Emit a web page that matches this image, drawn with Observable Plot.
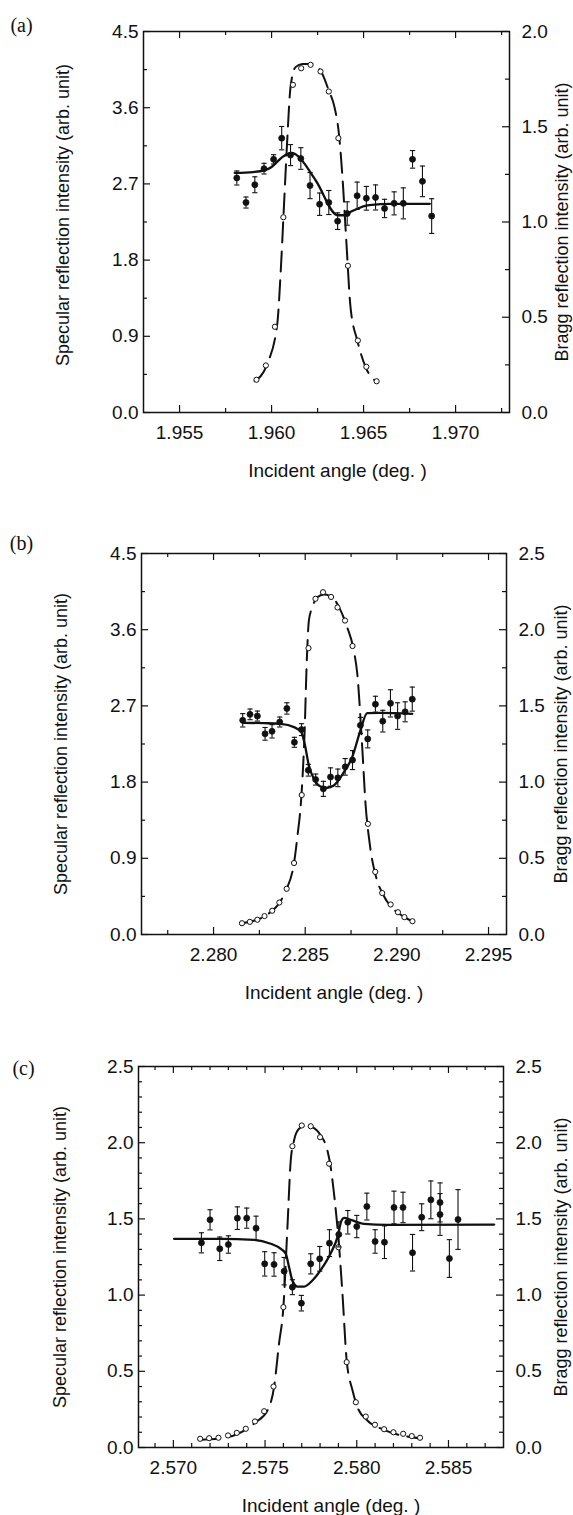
<!DOCTYPE html>
<html><head><meta charset="utf-8">
<script src="https://cdn.jsdelivr.net/npm/d3@7"></script>
<script src="https://cdn.jsdelivr.net/npm/@observablehq/plot@0.6"></script>
<style>
html,body{margin:0;padding:0;background:#fff;}
#wrap{position:relative;width:573px;height:1515px;overflow:hidden;background:#fff;}
#wrap>svg{position:absolute;left:0;}
</style></head><body><div id="wrap"></div>
<script>
// ---------- Panel (a) ----------
const aSpecX = [1.95811,1.95861,1.95909,1.95959,1.96011,1.96055,1.96103,1.96159,1.96209,1.96261,1.96311,1.96359,1.96411,1.96465,1.96515,1.96565,1.96614,1.96666,1.96716,1.96766,1.9682,1.9687];
const aSpecY = [2.77,2.48,2.69,2.88,2.99,3.24,3.04,3.00,2.68,2.46,2.48,2.26,2.35,2.56,2.53,2.54,2.41,2.47,2.47,2.99,2.73,2.32];
const aSpecErr = [0.083,0.065,0.094,0.063,0.055,0.138,0.124,0.128,0.154,0.132,0.142,0.098,0.138,0.161,0.14,0.148,0.108,0.136,0.183,0.104,0.181,0.205];
const aFitX = [1.9580,1.9590,1.9596,1.9600,1.9603,1.9606,1.9609,1.9611,1.9613,1.9624,1.9636,1.9640,1.9643,1.9647,1.9652,1.9659,1.9665,1.9686];
const aFitY = [2.83,2.84,2.86,2.90,2.96,3.02,3.055,3.065,3.05,2.74,2.33,2.33,2.37,2.41,2.445,2.46,2.465,2.465];
const aBraggX = [1.95918,1.95969,1.96018,1.96064,1.96116,1.96161,1.96212,1.96266,1.96311,1.96363,1.96415,1.96469,1.96515,1.96571];
const aBraggY = [0.172,0.247,0.45,1.025,1.72,1.807,1.825,1.79,1.685,1.44,0.77,0.378,0.24,0.164];
const aBFitX = [1.95908,1.95977,1.96031,1.96049,1.96067,1.96085,1.96103,1.9613,1.96167,1.96212,1.96266,1.96311,1.96342,1.96366,1.96384,1.96406,1.96429,1.96466,1.96511,1.96575];
const aBFitY = [0.164,0.256,0.466,0.728,1.078,1.428,1.708,1.813,1.830,1.830,1.795,1.690,1.603,1.463,1.253,0.903,0.553,0.378,0.238,0.159];
const aXMajor = [1.955,1.960,1.965,1.970];
const aXMinor = [1.9575,1.9625,1.9675,1.9725];
const aYMajor = [0,0.9,1.8,2.7,3.6,4.5];
const aYMinor = [0.45,1.35,2.25,3.15,4.05];
const aRMajor = [0,0.5,1.0,1.5,2.0];
const aRMinor = [0.25,0.75,1.25,1.75];

// ---------- Panel (b) ----------
const bSpecX = [2.28159,2.28199,2.28239,2.28281,2.28319,2.28361,2.284,2.28441,2.2848,2.28517,2.28557,2.28599,2.28638,2.28678,2.28718,2.28758,2.28801,2.28841,2.28883,2.28923,2.28965,2.29004,2.29045,2.29084];
const bSpecY = [2.53,2.60,2.58,2.37,2.40,2.51,2.67,2.27,2.42,1.94,1.83,1.72,1.86,1.85,1.98,2.06,2.47,2.31,2.72,2.52,2.73,2.58,2.63,2.78];
const bSpecErr = [0.079,0.063,0.059,0.075,0.079,0.059,0.067,0.059,0.07,0.069,0.065,0.089,0.108,0.104,0.098,0.112,0.094,0.106,0.094,0.128,0.161,0.157,0.118,0.142];
const bFitX = [2.28159,2.28275,2.28366,2.28439,2.28479,2.28497,2.2852,2.28547,2.28584,2.2862,2.28656,2.28711,2.28756,2.28801,2.28838,2.2891,2.29084];
const bFitY = [2.50,2.496,2.488,2.449,2.39,2.252,1.996,1.839,1.748,1.733,1.76,1.917,2.094,2.409,2.614,2.618,2.607];
const bBraggX = [2.28155,2.28198,2.28239,2.28278,2.2832,2.28359,2.28399,2.28439,2.28481,2.28518,2.28556,2.28597,2.28641,2.28676,2.28717,2.28758,2.28842,2.28882,2.2892,2.28966,2.29006,2.29041,2.29085];
const bBraggY = [0.074,0.083,0.097,0.121,0.156,0.21,0.30,0.469,0.915,1.879,2.203,2.246,2.215,2.146,2.06,1.893,0.726,0.411,0.272,0.197,0.146,0.114,0.087];
const bBFitX = [2.28155,2.28278,2.28399,2.28439,2.28457,2.2848,2.28497,2.28508,2.2852,2.28539,2.28566,2.28602,2.28647,2.28689,2.28729,2.28765,2.28784,2.28811,2.28829,2.28852,2.28892,2.2892,2.29041,2.29085];
const bBFitY = [0.074,0.12,0.30,0.47,0.639,0.923,1.339,1.776,2.06,2.148,2.213,2.231,2.213,2.137,2.016,1.864,1.711,1.229,0.858,0.595,0.354,0.274,0.114,0.087];
const bXMajor = [2.280,2.285,2.290,2.295];
const bXMinor = [2.2775,2.2825,2.2875,2.2925];
const bYMajor = [0,0.9,1.8,2.7,3.6,4.5];
const bYMinor = [0.45,1.35,2.25,3.15,4.05];
const bRMajor = [0,0.5,1.0,1.5,2.0,2.5];
const bRMinor = [0.25,0.75,1.25,1.75,2.25];

// ---------- Panel (c) ----------
const cSpecX = [2.57153,2.572,2.57253,2.573,2.57349,2.574,2.57451,2.57498,2.57549,2.57604,2.57649,2.57698,2.57749,2.57798,2.57851,2.57902,2.57951,2.58,2.58055,2.581,2.58151,2.58203,2.58252,2.58304,2.58354,2.58404,2.58454,2.58454,2.58505,2.58552];
const cSpecY = [1.343,1.494,1.304,1.332,1.505,1.505,1.439,1.205,1.201,1.157,1.052,0.947,1.205,1.238,1.341,1.398,1.478,1.450,1.581,1.352,1.347,1.575,1.575,1.278,1.511,1.625,1.608,1.529,1.240,1.496];
const cSpecErr = [0.066,0.066,0.077,0.057,0.074,0.066,0.079,0.08,0.077,0.09,0.049,0.051,0.066,0.081,0.088,0.082,0.077,0.073,0.088,0.077,0.107,0.107,0.1,0.12,0.088,0.124,0.128,0.137,0.124,0.196];
const cFitX = [2.57004,2.57258,2.5744,2.57531,2.57586,2.57613,2.57631,2.57649,2.57677,2.57713,2.57758,2.57804,2.57858,2.57895,2.57917,2.57931,2.57967,2.5804,2.58167,2.58749];
const cFitY = [1.369,1.369,1.363,1.337,1.304,1.271,1.183,1.096,1.056,1.056,1.096,1.166,1.275,1.38,1.49,1.507,1.494,1.468,1.461,1.463];
const cBraggX = [2.57146,2.57195,2.57246,2.57298,2.57346,2.57395,2.57445,2.57495,2.57546,2.576,2.57649,2.577,2.57749,2.578,2.57849,2.579,2.57945,2.57995,2.58049,2.58099,2.58149,2.582,2.58253,2.583,2.58345];
const cBraggY = [0.057,0.061,0.064,0.079,0.096,0.123,0.171,0.238,0.400,0.921,1.977,2.113,2.108,2.036,1.862,1.314,0.560,0.297,0.203,0.149,0.12,0.10,0.09,0.075,0.064];
const cBFitX = [2.5714,2.57295,2.57449,2.57513,2.57549,2.57576,2.576,2.57622,2.5764,2.57658,2.57685,2.57722,2.57758,2.57804,2.5784,2.57858,2.57876,2.57904,2.57922,2.57945,2.57977,2.58004,2.58058,2.58149,2.58349];
const cBFitY = [0.05,0.068,0.166,0.243,0.396,0.68,0.921,1.446,1.883,2.015,2.091,2.113,2.102,2.047,1.949,1.839,1.665,1.314,1.009,0.571,0.374,0.264,0.177,0.116,0.059];
const cXMajor = [2.570,2.575,2.580,2.585];
const cXMinor = [2.569,2.571,2.572,2.573,2.574,2.576,2.577,2.578,2.579,2.581,2.582,2.583,2.584,2.586,2.587];
const cYMajor = [0,0.5,1.0,1.5,2.0,2.5];
const cYMinor = [0.1,0.2,0.3,0.4,0.6,0.7,0.8,0.9,1.1,1.2,1.3,1.4,1.6,1.7,1.8,1.9,2.1,2.2,2.3,2.4];
const cRMajor = [0,0.5,1.0,1.5,2.0,2.5];
const cRMinor = cYMinor;

const xTitle = "Incident angle (deg. )";
const yTitle = "Specular reflection intensity (arb. unit)";
const rTitle = "Bragg reflection intensity (arb. unit)";

const ink = "#111";
const W = 573, FH = 381;
const capSymbol = {draw(ctx, size) { const r = Math.sqrt(size / Math.PI); ctx.moveTo(-r, 0); ctx.lineTo(r, 0); }};

function panel(p) {
  const fw = W - p.ml - p.mr;
  const k = p.yMax / p.rMax;
  const spec = p.specX.map((x, i) => ({x, y: p.specY[i], e: p.specErr[i]}));
  const fit = p.fitX.map((x, i) => ({x, y: p.fitY[i]}));
  const bragg = p.braggX.map((x, i) => ({x, y: p.braggY[i] * k}));
  const bfit = p.bfitX.map((x, i) => ({x, y: p.bfitY[i] * k}));
  const svg = Plot.plot({
    width: W, height: p.height,
    marginLeft: p.ml, marginRight: p.mr, marginTop: 31, marginBottom: p.height - 31 - FH,
    x: {domain: p.xDomain, label: null},
    y: {domain: [0, p.yMax], label: null},
    style: {fontFamily: "'Liberation Sans', Arial, sans-serif", fontSize: "19px", color: ink, background: "white", overflow: "visible"},
    marks: [
      Plot.tickX(p.xMajor, {x: d => d, insetTop: FH - 7, stroke: ink, strokeWidth: 1.2}),
      Plot.tickX(p.xMajor, {x: d => d, insetBottom: FH - 7, stroke: ink, strokeWidth: 1.2}),
      Plot.tickX(p.xMinor, {x: d => d, insetTop: FH - 4, stroke: ink, strokeWidth: 1.2}),
      Plot.tickX(p.xMinor, {x: d => d, insetBottom: FH - 4, stroke: ink, strokeWidth: 1.2}),
      Plot.tickY(p.yMajor, {y: d => d, insetRight: fw - 7, stroke: ink, strokeWidth: 1.2}),
      Plot.tickY(p.yMinor, {y: d => d, insetRight: fw - 4, stroke: ink, strokeWidth: 1.2}),
      Plot.tickY(p.rMajor, {y: d => d * k, insetLeft: fw - 7, stroke: ink, strokeWidth: 1.2}),
      Plot.tickY(p.rMinor, {y: d => d * k, insetLeft: fw - 4, stroke: ink, strokeWidth: 1.2}),
      Plot.frame({stroke: ink, strokeWidth: 1.5}),
      Plot.line(bfit, {x: "x", y: "y", curve: "monotone-x", stroke: ink, strokeWidth: 2, strokeDasharray: "20,9"}),
      Plot.dot(bragg, {x: "x", y: "y", r: 2.6, stroke: ink, strokeWidth: 1, fill: "white"}),
      Plot.ruleX(spec, {x: "x", y1: d => d.y - d.e, y2: d => d.y + d.e, stroke: ink, strokeWidth: 1.1}),
      Plot.dot(spec, {x: "x", y: d => d.y + d.e, symbol: capSymbol, r: 2.6, stroke: ink, strokeWidth: 1.1, fill: "none"}),
      Plot.dot(spec, {x: "x", y: d => d.y - d.e, symbol: capSymbol, r: 2.6, stroke: ink, strokeWidth: 1.1, fill: "none"}),
      Plot.line(fit, {x: "x", y: "y", curve: "monotone-x", stroke: ink, strokeWidth: 2.3}),
      Plot.dot(spec, {x: "x", y: "y", r: 3, fill: ink, stroke: ink, strokeWidth: 0.8}),
      Plot.axisX(p.xMajor, {anchor: "bottom", tickSize: 0, tickPadding: 13, tickFormat: d => d.toFixed(3), label: null}),
      Plot.axisY(p.yMajor, {anchor: "left", tickSize: 0, tickPadding: 5, tickFormat: d => d.toFixed(1), label: null}),
      Plot.axisY(p.rMajor.map(d => d * k), {anchor: "right", tickSize: 0, tickPadding: 12, tickFormat: d => (d / k).toFixed(1), label: null}),
      Plot.text([xTitle], {text: d => d, frameAnchor: "bottom", dx: p.xtDx, dy: 58, fontSize: 19, textAnchor: "middle", lineAnchor: "middle"}),
      Plot.text([yTitle], {text: d => d, frameAnchor: "left", dx: p.ytDx, dy: p.ytDy, rotate: -90, fontSize: 18, textAnchor: "middle", lineAnchor: "middle"}),
      Plot.text([rTitle], {text: d => d, frameAnchor: "right", dx: p.rtDx, rotate: -90, fontSize: 18, textAnchor: "middle", lineAnchor: "middle"}),
      Plot.text([p.label], {text: d => d, frameAnchor: "top-left", dx: p.lDx, dy: p.lDy, fontSize: 20, fontFamily: "'Liberation Serif', 'DejaVu Serif', serif", textAnchor: "middle", lineAnchor: "middle"})
    ]
  });
  svg.style.top = p.top + "px";
  return svg;
}

const wrap = document.getElementById("wrap");
wrap.appendChild(panel({label: "(a)", top: 0, height: 492, ml: 143, mr: 64, xDomain: [1.95304, 1.97293], yMax: 4.5, rMax: 2.0,
  specX: aSpecX, specY: aSpecY, specErr: aSpecErr, fitX: aFitX, fitY: aFitY, braggX: aBraggX, braggY: aBraggY, bfitX: aBFitX, bfitY: aBFitY,
  xMajor: aXMajor, xMinor: aXMinor, yMajor: aYMajor, yMinor: aYMinor, rMajor: aRMajor, rMinor: aRMinor,
  xtDx: 11, ytDx: -80, ytDy: -7, rtDx: 53, lDx: -122, lDy: -6}));
wrap.appendChild(panel({label: "(b)", top: 522, height: 492, ml: 141, mr: 67, xDomain: [2.27607, 2.29598], yMax: 4.5, rMax: 2.5,
  specX: bSpecX, specY: bSpecY, specErr: bSpecErr, fitX: bFitX, fitY: bFitY, braggX: bBraggX, braggY: bBraggY, bfitX: bBFitX, bfitY: bBFitY,
  xMajor: bXMajor, xMinor: bXMinor, yMajor: bYMajor, yMinor: bYMinor, rMajor: bRMajor, rMinor: bRMinor,
  xtDx: 10, ytDx: -80, ytDy: 0, rtDx: 55, lDx: -120, lDy: -10}));
wrap.appendChild(panel({label: "(c)", top: 1035, height: 480, ml: 138, mr: 70, xDomain: [2.5681, 2.5880], yMax: 2.5, rMax: 2.5,
  specX: cSpecX, specY: cSpecY, specErr: cSpecErr, fitX: cFitX, fitY: cFitY, braggX: cBraggX, braggY: cBraggY, bfitX: cBFitX, bfitY: cBFitY,
  xMajor: cXMajor, xMinor: cXMinor, yMajor: cYMajor, yMinor: cYMinor, rMajor: cRMajor, rMinor: cRMinor,
  xtDx: 10, ytDx: -78, ytDy: 0, rtDx: 58, lDx: -115, lDy: 2}));
</script>
</body></html>
